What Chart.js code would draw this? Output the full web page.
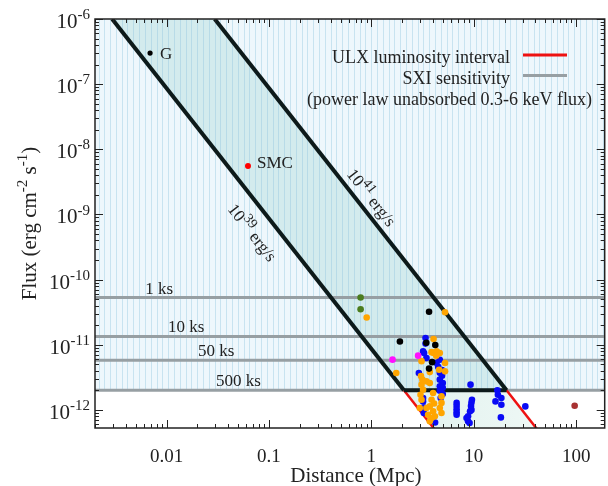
<!DOCTYPE html>
<html>
<head>
<meta charset="utf-8">
<script src="https://cdn.jsdelivr.net/npm/chart.js@4.4.1/dist/chart.umd.min.js"></script>
<style>
  html, body { margin: 0; padding: 0; background: #fff; }
  #chart { display: block; }
</style>
</head>
<body>
<canvas id="chart" width="608" height="486"></canvas>
<script>
"use strict";

// Axis ranges and tick labels (distance in Mpc, flux in erg cm^-2 s^-1)
const xMin = 0.002, xMax = 190;
const yMin = 5.27e-13, yMax = 1e-6;
const xTickValues = [0.01, 0.1, 1, 10, 100];
const xTickLabels = ['0.01', '0.1', '1', '10', '100'];
const yTickPowers = [-6, -7, -8, -9, -10, -11, -12];

// SXI sensitivity for each exposure
const exposureLabels = ['1 ks', '10 ks', '50 ks', '500 ks'];
const sensitivityFlux = [5.3e-11, 1.34e-11, 5.8e-12, 2.0e-12];

// ULX luminosity interval (10^39 and 10^41 erg/s), black above SXI limit, red below
const line39Upper = [[0.00294, 1e-6], [2.08, 2.0e-12]];
const line39Lower = [[2.08, 2.0e-12], [4.38, 4.5e-13]];
const line41Upper = [[0.0295, 1e-6], [20.9, 2.0e-12]];
const line41Lower = [[20.9, 2.0e-12], [44.0, 4.5e-13]];
const limitSegment = [[2.08, 2.0e-12], [20.9, 2.0e-12]];

// Sources
const pointG = [[0.0069, 3.0e-7]];
const pointSMC = [[0.0624, 5.56e-9]];
const blackPts = [[3.66, 3.2e-11], [1.90, 1.12e-11], [3.44, 1.07e-11], [4.21, 9.9e-12],
  [3.92, 5.4e-12], [3.66, 4.3e-12]];
const greenPts = [[0.785, 5.3e-11], [0.785, 3.5e-11]];
const magentaPts = [[1.61, 5.9e-12], [2.86, 6.8e-12]];
const brownPts = [[96.7, 1.16e-12]];
const orangePts = [[0.90, 2.62e-11], [5.24, 3.15e-11], [4.05, 1.22e-11], [4.49, 7.5e-12],
  [4.01, 7.5e-12], [3.87, 7.7e-12], [4.33, 7.9e-12], [4.66, 7.46e-12], [3.09, 5.6e-12],
  [5.24, 5.24e-12], [5.24, 3.9e-12], [4.59, 4.14e-12], [3.72, 3.8e-12], [1.75, 3.68e-12],
  [3.15, 2.91e-12], [3.09, 2.44e-12], [3.20, 2.04e-12], [3.45, 2.74e-12], [3.72, 2.59e-12],
  [3.02, 1.71e-12], [3.09, 1.43e-12], [4.01, 1.82e-12], [3.87, 1.43e-12], [4.84, 1.61e-12],
  [4.84, 1.28e-12], [2.97, 1.07e-12], [3.45, 1.07e-12], [3.72, 1.13e-12], [4.01, 9.5e-13],
  [4.66, 1.07e-12], [3.58, 8.44e-13], [3.87, 7.5e-13], [3.72, 6.67e-13], [4.17, 7.95e-13],
  [4.84, 8.97e-13], [3.05, 3.3e-12], [4.3, 6.8e-12], [4.1, 1.25e-12]];
const bluePts = [[3.38, 1.27e-11], [3.38, 1.04e-11], [3.20, 7.9e-12], [3.27, 7.46e-12],
  [3.45, 6.25e-12], [4.33, 5.24e-12], [4.66, 5.89e-12], [4.49, 4.6e-12], [2.91, 3.68e-12],
  [4.66, 3.7e-12], [4.9, 3.35e-12], [4.66, 2.91e-12], [4.98, 2.59e-12], [4.66, 2.3e-12],
  [4.98, 2.19e-12], [4.66, 1.97e-12], [4.98, 1.75e-12], [4.75, 1.52e-12], [4.9, 4.1e-12],
  [3.20, 1.52e-12], [3.20, 1.35e-12], [3.27, 1.09e-12], [3.25, 8.97e-13], [4.19, 6.4e-13],
  [9.3, 2.44e-12], [17.0, 2.0e-12], [17.2, 1.71e-12], [18.6, 1.52e-12], [16.3, 1.35e-12],
  [18.6, 1.2e-12], [31.9, 1.13e-12], [18.4, 7.67e-13], [6.8, 1.28e-12], [6.8, 1.15e-12],
  [6.8, 1.02e-12], [6.8, 9.2e-13], [6.8, 8.4e-13], [9.6, 1.43e-12], [9.5, 1.3e-12],
  [9.4, 1.15e-12], [9.5, 1.0e-12], [9.2, 9.5e-13], [8.5, 7.5e-13], [8.8, 6.67e-13],
  [8.8, 7.95e-13], [9.1, 6.3e-13]];

// Label placement (data coordinates)
const exposureLabelX = [0.0062, 0.0103, 0.0203, 0.0304];
const lumLabels = [
  { exp: '41', at: [0.99, 1.8e-9], line: line41Upper },
  { exp: '39', at: [0.068, 5.2e-10], line: line39Upper }
];

const FONT = '"Liberation Serif", "Times New Roman", serif';
const TEXT = '#222';

const toXY = arr => arr.map(p => ({ x: p[0], y: p[1] }));

function lineSet(arr, color, width, order) {
  return { data: toXY(arr), showLine: true, borderColor: color, borderWidth: width,
    pointRadius: 0, clip: 0, order: order };
}
function pointSet(arr, color, radius, order) {
  return { data: toXY(arr), showLine: false, backgroundColor: color, borderWidth: 0,
    pointRadius: radius, pointHoverRadius: radius, order: order };
}

// draw a run of text pieces, some of them superscript
function drawRuns(ctx, runs, x, y, align, size, supRatio) {
  const supSize = Math.round(size * (supRatio || 0.72));
  let total = 0;
  runs.forEach(r => {
    ctx.font = (r.sup ? supSize : size) + 'px ' + FONT;
    r.w = ctx.measureText(r.t).width;
    total += r.w;
  });
  let cx = align === 'right' ? x - total : align === 'center' ? x - total / 2 : x;
  ctx.textAlign = 'left';
  ctx.textBaseline = 'alphabetic';
  runs.forEach(r => {
    ctx.font = (r.sup ? supSize : size) + 'px ' + FONT;
    ctx.fillText(r.t, cx, r.sup ? y - size * 0.42 : y);
    cx += r.w;
  });
}

function logTicks(min, max) {
  const out = [];
  for (let e = Math.floor(Math.log10(min)); e <= Math.ceil(Math.log10(max)); e++) {
    for (let k = 1; k < 10; k++) {
      const v = k * Math.pow(10, e);
      if (v >= min * 0.999 && v <= max * 1.001) out.push({ v: v, major: k === 1 });
    }
  }
  return out;
}

const backdrop = {
  id: 'backdrop',
  beforeDatasetsDraw(chart) {
    const { ctx, chartArea: a, scales: { x, y } } = chart;
    const P = p => [x.getPixelForValue(p[0]), y.getPixelForValue(p[1])];
    const poly = (pts, fill) => {
      ctx.beginPath();
      pts.map(P).forEach((q, i) => (i ? ctx.lineTo(q[0], q[1]) : ctx.moveTo(q[0], q[1])));
      ctx.closePath();
      ctx.fillStyle = fill;
      ctx.fill();
    };
    ctx.save();
    ctx.beginPath();
    ctx.rect(a.left, a.top, a.width, a.height);
    ctx.clip();
    const ySens = y.getPixelForValue(sensitivityFlux[3]);
    ctx.fillStyle = '#ffffff';
    ctx.fillRect(a.left, a.top, a.width, a.height);
    ctx.fillStyle = '#eef7fc';
    ctx.fillRect(a.left, a.top, a.width, ySens - a.top);
    poly([line41Upper[0], line41Upper[1], line39Upper[1], line39Upper[0]], '#d3ebed');
    const g = ctx.createLinearGradient(x.getPixelForValue(2), 0, x.getPixelForValue(40), 0);
    g.addColorStop(0, '#e0f1ee');
    g.addColorStop(1, '#eef8f5');
    poly([line41Lower[0], line41Lower[1], line39Lower[1], line39Lower[0]], g);
    // thin vertical hatching of the background
    ctx.strokeStyle = 'rgba(140, 195, 222, 0.38)';
    ctx.lineWidth = 1;
    for (let sx = a.left + 3.5; sx < a.right; sx += 5.8) {
      ctx.beginPath();
      ctx.moveTo(Math.round(sx) + 0.5, a.top);
      ctx.lineTo(Math.round(sx) + 0.5, ySens);
      ctx.stroke();
    }
    ctx.restore();
  },
  afterDraw(chart) {
    const { ctx, chartArea: a, scales: { x, y } } = chart;
    ctx.save();
    ctx.fillStyle = TEXT;

    // exposure labels
    ctx.font = '17px ' + FONT;
    ctx.textAlign = 'left';
    exposureLabels.forEach((t, i) => {
      ctx.fillText(t, x.getPixelForValue(exposureLabelX[i]), y.getPixelForValue(sensitivityFlux[i]) - 4);
    });

    // source labels
    ctx.fillText('G', x.getPixelForValue(pointG[0][0]) + 10, y.getPixelForValue(pointG[0][1]) + 6);
    ctx.fillText('SMC', x.getPixelForValue(pointSMC[0][0]) + 9, y.getPixelForValue(pointSMC[0][1]) + 2);

    // luminosity labels along the lines
    lumLabels.forEach(l => {
      const x0 = x.getPixelForValue(l.line[0][0]), y0 = y.getPixelForValue(l.line[0][1]);
      const x1 = x.getPixelForValue(l.line[1][0]), y1 = y.getPixelForValue(l.line[1][1]);
      ctx.save();
      ctx.translate(x.getPixelForValue(l.at[0]), y.getPixelForValue(l.at[1]));
      ctx.rotate(Math.atan2(y1 - y0, x1 - x0));
      drawRuns(ctx, [{ t: '10' }, { t: l.exp, sup: true }, { t: ' erg/s' }], 0, 5, 'center', 17, 0.8);
      ctx.restore();
    });

    // legend
    ctx.font = '18px ' + FONT;
    ctx.textAlign = 'right';
    ctx.fillText('ULX luminosity interval', 510, 63);
    ctx.fillText('SXI sensitivity', 510, 84);
    ctx.fillText('(power law unabsorbed 0.3-6 keV flux)', 592, 105);
    ctx.lineWidth = 3;
    ctx.strokeStyle = '#ee1111';
    ctx.beginPath(); ctx.moveTo(523, 55); ctx.lineTo(567, 55); ctx.stroke();
    ctx.strokeStyle = '#979fa3';
    ctx.beginPath(); ctx.moveTo(523, 75.5); ctx.lineTo(567, 75.5); ctx.stroke();

    // frame and inward ticks on all sides
    ctx.strokeStyle = '#222';
    ctx.lineWidth = 1;
    logTicks(xMin, xMax).forEach(t => {
      const p = Math.round(x.getPixelForValue(t.v)) + 0.5, len = t.major ? 8 : 4;
      ctx.beginPath();
      ctx.moveTo(p, a.bottom); ctx.lineTo(p, a.bottom - len);
      ctx.moveTo(p, a.top); ctx.lineTo(p, a.top + len);
      ctx.stroke();
    });
    logTicks(yMin, yMax).forEach(t => {
      const p = Math.round(y.getPixelForValue(t.v)) + 0.5, len = t.major ? 8 : 4;
      ctx.beginPath();
      ctx.moveTo(a.left, p); ctx.lineTo(a.left + len, p);
      ctx.moveTo(a.right, p); ctx.lineTo(a.right - len, p);
      ctx.stroke();
    });
    ctx.lineWidth = 1.5;
    ctx.strokeRect(a.left, a.top, a.width, a.height);

    // tick labels
    ctx.font = '19px ' + FONT;
    ctx.textAlign = 'center';
    xTickValues.forEach((v, i) => ctx.fillText(xTickLabels[i], x.getPixelForValue(v), 462));
    yTickPowers.forEach(pw => {
      drawRuns(ctx, [{ t: '10' }, { t: '-' + Math.abs(pw), sup: true }], a.left - 5,
        y.getPixelForValue(Math.pow(10, pw)) + 9, 'right', 21, 0.7);
    });

    // axis titles
    ctx.font = '21px ' + FONT;
    ctx.textAlign = 'center';
    ctx.fillText('Distance (Mpc)', (a.left + a.right) / 2 + 6, 482);
    ctx.save();
    ctx.translate(36, (a.top + a.bottom) / 2);
    ctx.rotate(-Math.PI / 2);
    drawRuns(ctx, [{ t: 'Flux (erg cm' }, { t: '-2', sup: true }, { t: ' s' }, { t: '-1', sup: true }, { t: ')' }],
      0, 0, 'center', 21);
    ctx.restore();
    ctx.restore();
  }
};

const datasets = [];
sensitivityFlux.forEach(f => datasets.push(lineSet([[xMin, f], [xMax, f]], '#979fa3', 3, 30)));
datasets.push(lineSet(line39Upper, '#0d1a1a', 4, 20));
datasets.push(lineSet(line41Upper, '#0d1a1a', 4, 20));
datasets.push(lineSet(limitSegment, '#0d1a1a', 4, 20));
datasets.push(lineSet(line39Lower, '#ee1111', 2.5, 21));
datasets.push(lineSet(line41Lower, '#ee1111', 2.5, 21));
datasets.push(pointSet(bluePts, '#0a0af5', 3.3, 6));
datasets.push(pointSet(orangePts, '#ffa500', 3.3, 5));
datasets.push(pointSet(greenPts, '#4b7d1e', 3.3, 4));
datasets.push(pointSet(magentaPts, '#ff10ff', 3.3, 4));
datasets.push(pointSet(brownPts, '#a83232', 3.3, 4));
datasets.push(pointSet(blackPts, '#000000', 3.3, 3));
datasets.push(pointSet(pointG, '#000000', 2.6, 2));
datasets.push(pointSet(pointSMC, '#ff0000', 3.0, 2));

new Chart(document.getElementById('chart'), {
  type: 'scatter',
  data: { datasets: datasets },
  options: {
    responsive: false,
    animation: false,
    events: [],
    layout: { padding: { top: 19, right: 3, left: 0, bottom: 0 } },
    plugins: { legend: { display: false }, tooltip: { enabled: false } },
    scales: {
      x: {
        type: 'logarithmic', min: xMin, max: xMax,
        grid: { display: false }, border: { display: false },
        ticks: { display: false },
        afterFit: s => { s.height = 58; }
      },
      y: {
        type: 'logarithmic', min: yMin, max: yMax,
        grid: { display: false }, border: { display: false },
        ticks: { display: false },
        afterFit: s => { s.width = 95; }
      }
    }
  },
  plugins: [backdrop]
});
</script>
</body>
</html>
